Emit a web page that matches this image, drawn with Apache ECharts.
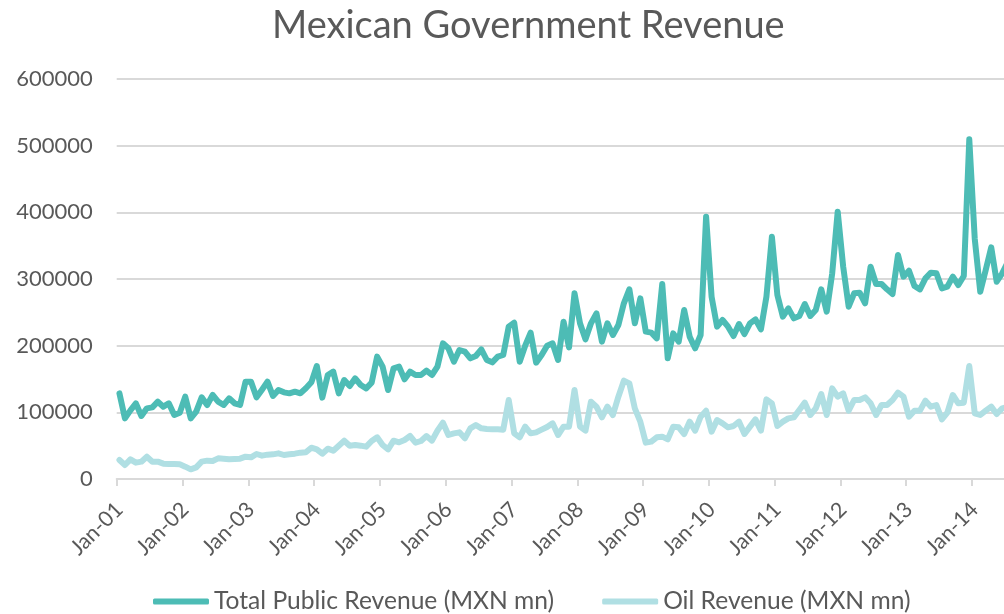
<!DOCTYPE html>
<html>
<head>
<meta charset="utf-8">
<script src="https://cdn.jsdelivr.net/npm/echarts@6/dist/echarts.min.js"></script>
<style>
html,body{margin:0;padding:0;background:#fff;}
#chart{width:1004px;height:614px;}
</style>
</head>
<body>
<div id="chart"></div>
<script>
// Monthly categories Jan-01 .. Jul-14
var monthNames = ['Jan','Feb','Mar','Apr','May','Jun','Jul','Aug','Sep','Oct','Nov','Dec'];
var years = ['01','02','03','04','05','06','07','08','09','10','11','12','13','14'];
var lastYearMonths = 7;

// Total Public Revenue (MXN mn)
var totalRevenue = [
128500,91000,103000,113500,94500,106000,107500,116000,108500,113500,96000,99500,
123500,91000,101000,122500,111000,126000,116000,111000,121000,113500,111000,146000,
146000,122500,134000,146000,124500,133500,130000,128500,131000,128500,136000,145000,
169500,122000,156000,161000,128500,148500,139500,151000,141000,136000,144500,183500,
168500,133500,166000,168500,149500,161000,156000,156000,162500,156000,168500,203500,
196000,176000,193500,191000,181000,184500,194500,178500,175000,183500,186000,228500,
234500,176000,200000,219500,174500,186000,200000,203500,178500,236000,197500,278500,
233500,209500,233500,248500,206000,233500,216000,231000,263500,284500,233500,271000,
221000,219500,211000,292500,181000,218500,206000,253500,213500,196000,216000,393500,
273500,228500,238500,228500,214500,232500,217500,233500,239500,224500,273500,363500,
276000,243500,256000,241000,244500,262500,244500,253500,284500,251000,308500,401000,
318500,258500,278500,279500,263500,318500,292500,292500,284500,277500,336000,303500,
312500,289500,284500,301000,309500,308500,286000,288500,303500,291000,304500,509500,
360000,281000,313500,347500,296000,308500,325000
];

// Oil Revenue (MXN mn)
var oilRevenue = [
28500,21000,29500,24500,26000,33500,26000,26000,23000,22500,22500,22000,
18500,14500,17500,26000,27500,27000,31000,30500,29500,30000,30500,33500,
32500,37500,35000,36500,37000,38500,36000,37000,38000,39500,40000,47000,
44500,38000,45500,42500,50000,57500,50000,51000,50000,48500,57000,62500,
51000,44500,57500,55000,58500,64500,54500,57000,64500,57500,72500,84500,
66000,68500,70000,61000,76000,81000,76000,75000,74500,74500,74000,118500,
68500,62500,78500,68500,70000,74000,78000,83500,66000,78500,78500,133500,
78500,72500,116000,108500,92500,108500,96000,123500,147500,143500,106000,86000,
54500,56000,62500,63500,59500,78500,77500,67500,86000,72500,93500,102500,
71000,88500,83500,77500,79500,86000,67500,78500,89500,72500,119500,113500,
79500,86000,91000,92500,103500,114500,96000,106000,127500,96000,136000,123500,
128500,102500,118500,118500,122500,113500,96000,111000,111000,118500,129500,123500,
93500,102500,102500,117500,108500,111000,89500,99500,126000,113500,114500,169500,
98500,96000,102500,108500,97500,106000,108000
];

var yTicks = [0,100000,200000,300000,400000,500000,600000];
var seriesNames = ['Total Public Revenue (MXN mn)','Oil Revenue (MXN mn)'];

var categories = [];
years.forEach(function (y, i) {
  var n = (i === years.length - 1) ? lastYearMonths : 12;
  for (var m = 0; m < n; m++) categories.push(monthNames[m] + '-' + y);
});

var textColor = '#595959';
var gridColor = '#d9d9d9';
var font = 'Lato';

var chart = echarts.init(document.getElementById('chart'), null, {renderer: 'canvas'});
chart.setOption({
  backgroundColor: '#ffffff',
  animation: false,
  title: {
    text: 'Mexican Government Revenue',
    left: 267,
    top: 2,
    textStyle: {fontFamily: font, fontSize: 38, fontWeight: 'normal', color: textColor}
  },
  legend: {
    data: seriesNames,
    left: 148,
    top: 584,
    itemWidth: 56,
    itemHeight: 6,
    itemGap: 48,
    icon: 'roundRect',
    textStyle: {fontFamily: font, fontSize: 24.6, color: textColor}
  },
  grid: {
    left: 116.7,
    right: -6.4,
    top: 79,
    bottom: 135,
    containLabel: false,
    outerBoundsMode: 'none'
  },
  xAxis: {
    type: 'category',
    data: categories,
    boundaryGap: true,
    axisLine: {lineStyle: {color: gridColor, width: 2}},
    axisTick: {show: true, interval: 11, length: 7, lineStyle: {color: gridColor, width: 2}},
    axisLabel: {
      interval: 11,
      rotate: 45,
      margin: 27,
      fontFamily: font,
      fontSize: 21.5,
      color: textColor
    },
    splitLine: {show: false}
  },
  yAxis: {
    type: 'value',
    min: yTicks[0],
    max: yTicks[yTicks.length - 1],
    interval: 100000,
    axisLine: {show: false},
    axisTick: {show: false},
    axisLabel: {
      margin: 24,
      fontFamily: font,
      fontSize: 22,
      color: textColor,
      formatter: function (v) { return String(v); }
    },
    splitLine: {lineStyle: {color: gridColor, width: 2}}
  },
  series: [
    {
      name: seriesNames[0],
      type: 'line',
      data: totalRevenue,
      symbol: 'none',
      color: '#4dbcb5',
      lineStyle: {width: 6, color: '#4dbcb5', join: 'round', cap: 'round'}
    },
    {
      name: seriesNames[1],
      type: 'line',
      data: oilRevenue,
      symbol: 'none',
      color: '#b0dfe3',
      lineStyle: {width: 6, color: '#b0dfe3', join: 'round', cap: 'round'}
    }
  ]
});
</script>
</body>
</html>
